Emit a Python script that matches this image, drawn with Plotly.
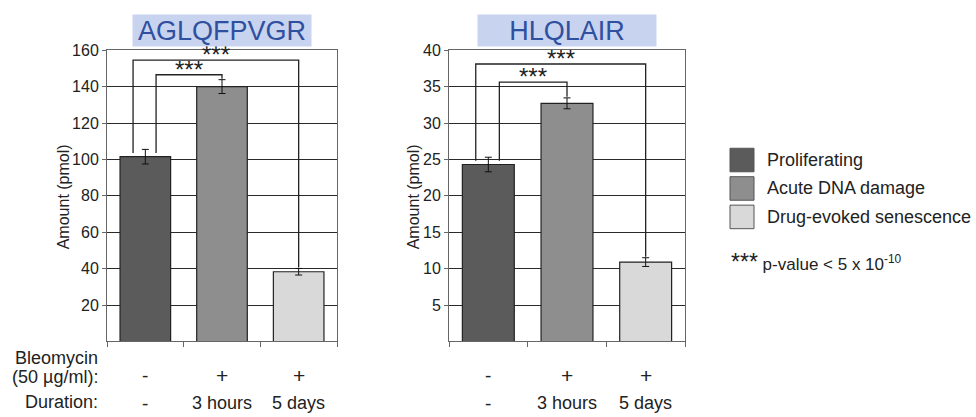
import plotly.graph_objects as go

# ---------------- data ----------------
groups = ["Proliferating", "Acute DNA damage", "Drug-evoked senescence"]
bar_colors = ["#5b5b5b", "#8e8e8e", "#d9d9d9"]

peptide_titles = ["AGLQFPVGR", "HLQLAIR"]
agl_values = [101.5, 140.0, 38.3]
agl_errors = [4.0, 3.8, 1.8]
hlq_values = [24.3, 32.7, 10.9]
hlq_errors = [1.0, 0.75, 0.6]

y_max = [160, 40]
y_ticks = [[20, 40, 60, 80, 100, 120, 140, 160], [5, 10, 15, 20, 25, 30, 35, 40]]

# significance brackets: (left index, right index, bracket height)
agl_brackets = [(0, 2, 154.5), (0, 1, 146.5)]
hlq_brackets = [(0, 2, 38.1), (0, 1, 35.6)]

bleomycin_row = ["-", "+", "+"]
duration_row = ["-", "3 hours", "5 days"]
row_labels = ["Bleomycin", "(50 µg/ml):", "Duration:"]

FONT = "Liberation Sans, Arial, Helvetica, sans-serif"
W, H = 976, 417

def px(x):
    return x / W

def py(y):
    return (H - y) / H

fig = go.Figure()

panels = [
    dict(values=agl_values, errors=agl_errors, brackets=agl_brackets,
         xd=[107, 337], xa="x", ya="y", title=peptide_titles[0], ytitle_x=63),
    dict(values=hlq_values, errors=hlq_errors, brackets=hlq_brackets,
         xd=[449, 685], xa="x2", ya="y2", title=peptide_titles[1], ytitle_x=413),
]

shapes = []
annotations = []
cat_x = [0, 1, 2]

for p_i, p in enumerate(panels):
    for i, g in enumerate(groups):
        fig.add_trace(go.Bar(
            x=[cat_x[i]], y=[p["values"][i]],
            error_y=dict(type="data", array=[p["errors"][i]], color="#111",
                         thickness=1, width=3.5),
            marker=dict(color=bar_colors[i], line=dict(color="#222", width=1.2)),
            width=0.66, name=g, showlegend=False,
            xaxis=p["xa"], yaxis=p["ya"],
        ))
    xref, yref = p["xa"], p["ya"]
    ymax = y_max[p_i]
    gap = ymax * 0.012
    # brackets
    for (a, b, h) in p["brackets"]:
        if b == 2:
            xl = cat_x[a] - 0.16
        else:
            xl = cat_x[a] + 0.14
        xr = cat_x[b]
        yl = p["values"][a] + p["errors"][a] - gap
        yr = p["values"][b] + p["errors"][b] + gap * 0.3
        shapes.append(dict(type="path", xref=xref, yref=yref,
                           path=f"M {xl},{yl} L {xl},{h} L {xr},{h} L {xr},{yr}",
                           line=dict(color="#222", width=1.3)))
        annotations.append(dict(x=(xl + xr) / 2, y=h, xref=xref, yref=yref,
                                text="***", showarrow=False, yanchor="bottom",
                                yshift=-10, font=dict(size=24, color="#222", family=FONT)))
    # title box
    cx = (p["xd"][0] + p["xd"][1]) / 2
    annotations.append(dict(x=px(cx), y=py(23), xref="paper", yref="paper",
                            text=p["title"], showarrow=False, xanchor="center", yanchor="middle",
                            bgcolor="#c8d3f0", width=176, height=29,
                            font=dict(size=27, color="#2f4f9f", family=FONT)))
    # y title
    annotations.append(dict(x=px(p["ytitle_x"]), y=py(193), xref="paper", yref="paper",
                            text="Amount (pmol)", textangle=-90, showarrow=False,
                            xanchor="center", yanchor="middle",
                            font=dict(size=16, color="#222", family=FONT)))
    # bottom rows
    for i in range(3):
        annotations.append(dict(x=cat_x[i], y=py(375), xref=xref, yref="paper",
                                text=bleomycin_row[i], showarrow=False, yanchor="middle",
                                font=dict(size=21 if bleomycin_row[i] == "+" else 19,
                                          color="#222", family=FONT)))
        annotations.append(dict(x=cat_x[i], y=py(403), xref=xref, yref="paper",
                                text=duration_row[i], showarrow=False, yanchor="middle",
                                font=dict(size=19 if duration_row[i] == "-" else 18,
                                          color="#222", family=FONT)))

# row labels on the left
for lab, yy in zip(row_labels, [357, 376, 402]):
    annotations.append(dict(x=px(100), y=py(yy), xref="paper", yref="paper",
                            text=lab, showarrow=False, xanchor="right", yanchor="middle",
                            font=dict(size=18, color="#222", family=FONT)))

# custom legend
leg_tops = [143, 172, 201]
for i, g in enumerate(groups):
    shapes.append(dict(type="rect", xref="paper", yref="paper",
                       x0=px(730), x1=px(754), y0=py(leg_tops[i] + 24), y1=py(leg_tops[i]),
                       fillcolor=bar_colors[i], line=dict(color="#555", width=1)))
    annotations.append(dict(x=px(765), y=py(leg_tops[i] + 12), xref="paper", yref="paper",
                            text=g, showarrow=False, xanchor="left", yanchor="middle",
                            font=dict(size=18, color="#222", family=FONT)))
annotations.append(dict(x=px(729), y=py(259), xref="paper", yref="paper",
                        text="<span style='font-size:23px'>***</span> p-value &lt; 5 x 10<sup>-10</sup>",
                        showarrow=False, xanchor="left", yanchor="middle",
                        font=dict(size=17, color="#222", family=FONT)))

axis_common = dict(showline=True, linecolor="#666", linewidth=1, mirror=True)
for p_i, p in enumerate(panels):
    suffix = "" if p_i == 0 else "2"
    fig.update_layout(**{
        f"xaxis{suffix}": dict(domain=[px(p["xd"][0]), px(p["xd"][1])], range=[-0.5, 2.5],
                               tickvals=[-0.5, 0.5, 1.5, 2.5], ticks="outside", ticklen=5,
                               tickcolor="#666", showticklabels=False, showgrid=False,
                               zeroline=False, anchor=f"y{suffix}", **axis_common),
        f"yaxis{suffix}": dict(domain=[py(340), py(43)], range=[0, y_max[p_i]],
                               tickvals=y_ticks[p_i], ticks="outside", ticklen=4,
                               tickcolor="#666", showgrid=True, gridcolor="#2a2a2a",
                               gridwidth=1, zeroline=False, anchor=f"x{suffix}",
                               tickfont=dict(size=16, color="#222", family=FONT),
                               **axis_common),
    })

fig.update_layout(
    width=W, height=H, margin=dict(l=0, r=0, t=0, b=0),
    paper_bgcolor="white", plot_bgcolor="white",
    barmode="overlay", showlegend=False,
    shapes=shapes, annotations=annotations,
    font=dict(family=FONT),
)

fig.write_html("out.html")
